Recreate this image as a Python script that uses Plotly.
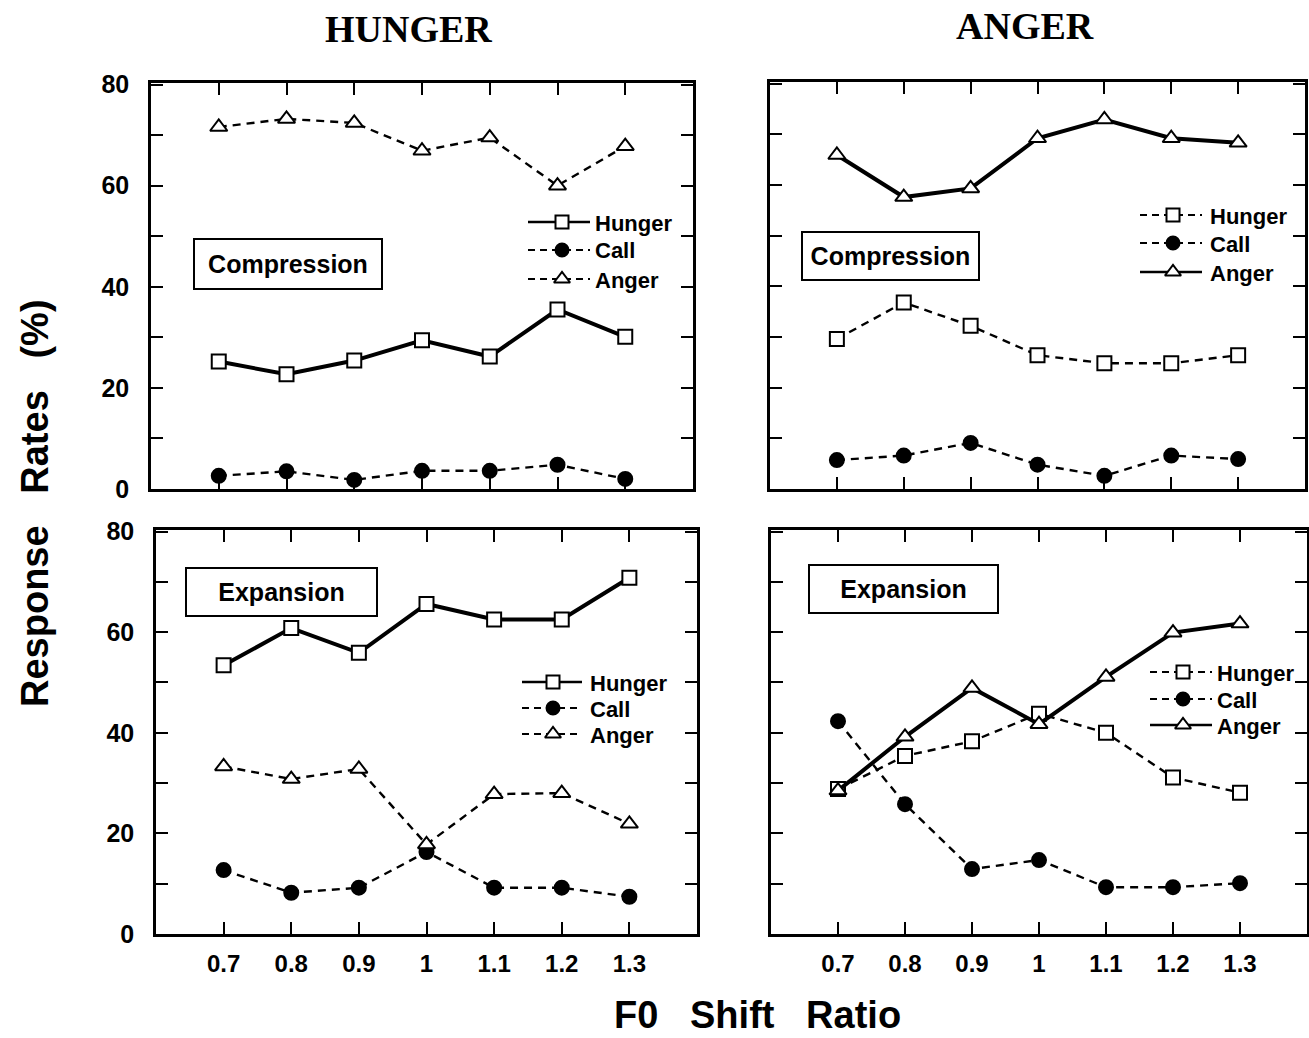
import plotly.graph_objects as go

ratios = [0.7, 0.8, 0.9, 1.0, 1.1, 1.2, 1.3]
tick_labels = ["0.7", "0.8", "0.9", "1", "1.1", "1.2", "1.3"]

# Hunger stimulus, compression
hc_hunger = [25.2, 22.7, 25.4, 29.4, 26.2, 35.5, 30.1]
hc_call = [2.6, 3.5, 1.8, 3.6, 3.6, 4.8, 2.0]
hc_anger = [71.6, 73.2, 72.4, 66.9, 69.5, 60.0, 67.8]
# Anger stimulus, compression
ac_hunger = [29.6, 36.8, 32.2, 26.4, 24.8, 24.8, 26.4]
ac_call = [5.7, 6.6, 9.1, 4.8, 2.6, 6.6, 5.9]
ac_anger = [65.9, 57.6, 59.3, 69.2, 72.9, 69.2, 68.3]
# Hunger stimulus, expansion
he_hunger = [53.4, 60.8, 55.9, 65.6, 62.5, 62.5, 70.8]
he_call = [12.7, 8.2, 9.2, 16.3, 9.2, 9.2, 7.4]
he_anger = [33.3, 30.8, 32.8, 17.8, 27.8, 28.0, 21.9]
# Anger stimulus, expansion
ae_hunger = [28.8, 35.4, 38.3, 43.8, 40.0, 31.1, 28.1]
ae_call = [42.3, 25.8, 12.9, 14.7, 9.3, 9.3, 10.1]
ae_anger = [28.5, 39.2, 48.9, 41.7, 51.1, 59.9, 61.7]

series_names = ["Hunger", "Call", "Anger"]
y_ticks = [0, 10, 20, 30, 40, 50, 60, 70, 80]
y_tick_text = ["0", "", "20", "", "40", "", "60", "", "80"]

W, H = 1309, 1038
def px(x): return x / W
def py(y): return 1 - y / H

FONT = "Liberation Sans"
DASH = "8px,6px"
fig = go.Figure()

symbols = ["square", "circle", "triangle-up"]
fills = ["white", "black", "white"]
sizes = [14, 14, 15]

panels = [
    # axes, data, solid series index, x domain (px), y domain (px), x labels, y labels, legend layout
    dict(xa="x", ya="y", data=(hc_hunger, hc_call, hc_anger), solid=0,
         xd=(151, 693), yd=(489, 83), sxl=False, syl=True,
         leg=dict(x0=528, xm=562, x1=590, tx=593, rows=(222, 250, 279))),
    dict(xa="x2", ya="y2", data=(ac_hunger, ac_call, ac_anger), solid=2,
         xd=(770, 1305), yd=(489, 82), sxl=False, syl=False,
         leg=dict(x0=1140, xm=1173, x1=1202, tx=1208, rows=(215, 243, 272))),
    dict(xa="x3", ya="y3", data=(he_hunger, he_call, he_anger), solid=0,
         xd=(156, 697), yd=(934, 530), sxl=True, syl=True,
         leg=dict(x0=522, xm=553, x1=582, tx=588, rows=(682, 708, 734))),
    dict(xa="x4", ya="y4", data=(ae_hunger, ae_call, ae_anger), solid=2,
         xd=(771, 1307), yd=(934, 530), sxl=True, syl=False,
         leg=dict(x0=1150, xm=1183, x1=1212, tx=1215, rows=(672, 699, 725))),
]

annotations = []
for p in panels:
    xa, ya = p["xa"], p["ya"]
    for i in range(3):
        is_solid = (i == p["solid"])
        fig.add_trace(go.Scatter(
            x=ratios, y=p["data"][i], name=series_names[i], xaxis=xa, yaxis=ya,
            mode="lines+markers", showlegend=False,
            line=dict(color="black", width=4 if is_solid else 2.4,
                      dash="solid" if is_solid else DASH),
            marker=dict(symbol=symbols[i], size=sizes[i], color=fills[i], opacity=1,
                        line=dict(color="black", width=2)),
        ))
    xkey = "xaxis" + xa[1:]
    ykey = "yaxis" + ya[1:]
    fig.layout[xkey] = dict(
        domain=[px(p["xd"][0]), px(p["xd"][1])], range=[0.6, 1.4], anchor=ya,
        tickvals=ratios, ticktext=tick_labels, showticklabels=p["sxl"],
        ticks="inside", ticklen=12, tickwidth=2, tickcolor="black",
        showline=True, linewidth=2.5, linecolor="black", mirror="allticks",
        showgrid=False, zeroline=False, ticklabelstandoff=6, automargin=False,
        tickfont=dict(family=FONT, size=24, color="black", weight="bold"),
    )
    fig.layout[ykey] = dict(
        domain=[py(p["yd"][0]), py(p["yd"][1])], range=[0, 80.3], anchor=xa,
        tickvals=y_ticks, ticktext=y_tick_text, showticklabels=p["syl"],
        ticks="inside", ticklen=12, tickwidth=2, tickcolor="black",
        showline=True, linewidth=2.5, linecolor="black", mirror="allticks",
        showgrid=False, zeroline=False, ticklabelstandoff=14, automargin=False,
        tickfont=dict(family=FONT, size=25, color="black", weight="bold"),
    )
    # legend keys drawn on a pixel-space overlay axis
    lg = p["leg"]
    for i in range(3):
        is_solid = (i == p["solid"])
        yrow = lg["rows"][i]
        fig.add_trace(go.Scatter(
            x=[lg["x0"], lg["xm"], lg["x1"]], y=[yrow, yrow, yrow],
            xaxis="x5", yaxis="y5", mode="lines+markers", showlegend=False,
            hoverinfo="skip",
            line=dict(color="black", width=2.4 if is_solid else 2.2,
                      dash="solid" if is_solid else "7px,5px"),
            marker=dict(symbol=symbols[i], size=[0, sizes[i] - 1, 0], color=fills[i],
                        opacity=1, line=dict(color="black", width=[0, 2, 0])),
        ))
        annotations.append(dict(
            text=series_names[i], x=px(lg["tx"]), y=py(yrow + 1), xanchor="left",
            yanchor="middle", xref="paper", yref="paper", showarrow=False,
            font=dict(family=FONT, size=22, color="black", weight="bold"),
        ))

fig.layout["xaxis5"] = dict(domain=[0, 1], range=[0, W], visible=False, fixedrange=True,
                            anchor="y5", automargin=False)
fig.layout["yaxis5"] = dict(domain=[0, 1], range=[H, 0], visible=False, fixedrange=True,
                            anchor="x5", automargin=False)

titles = [
    dict(text="HUNGER", x=px(408), y=py(29), font=dict(family="Liberation Serif", size=38, weight="bold")),
    dict(text="ANGER", x=px(1025), y=py(26), font=dict(family="Liberation Serif", size=38, weight="bold")),
    dict(text="F0   Shift   Ratio", x=px(757), y=py(1015), font=dict(family=FONT, size=38, weight="bold")),
    dict(text="Response   Rates   (%)", x=px(35), y=py(503), textangle=-90, font=dict(family=FONT, size=38, weight="bold")),
]
for a in titles:
    a.update(xref="paper", yref="paper", showarrow=False, xanchor="center", yanchor="middle")
    a["font"]["color"] = "black"
    annotations.append(a)

boxes = [("Compression", 288, 264, 190, 52), ("Compression", 890, 256, 179, 50),
         ("Expansion", 281, 592, 193, 50), ("Expansion", 903, 589, 191, 50)]
for txt, cx, cy, bw, bh in boxes:
    annotations.append(dict(
        text=txt, x=px(cx), y=py(cy), xref="paper", yref="paper", showarrow=False,
        xanchor="center", yanchor="middle", width=bw - 6, height=bh - 6,
        bordercolor="black", borderwidth=2, bgcolor="white",
        font=dict(family=FONT, size=25, color="black", weight="bold"),
    ))

fig.update_layout(
    template="none",
    width=W, height=H, autosize=False, margin=dict(l=0, r=0, t=0, b=0, pad=0),
    paper_bgcolor="white", plot_bgcolor="rgba(0,0,0,0)",
    annotations=annotations, showlegend=False,
)

fig.write_html("out.html", config={"displayModeBar": False, "responsive": False},
               post_script="document.body.style.margin='0';document.body.style.overflow='hidden';")
